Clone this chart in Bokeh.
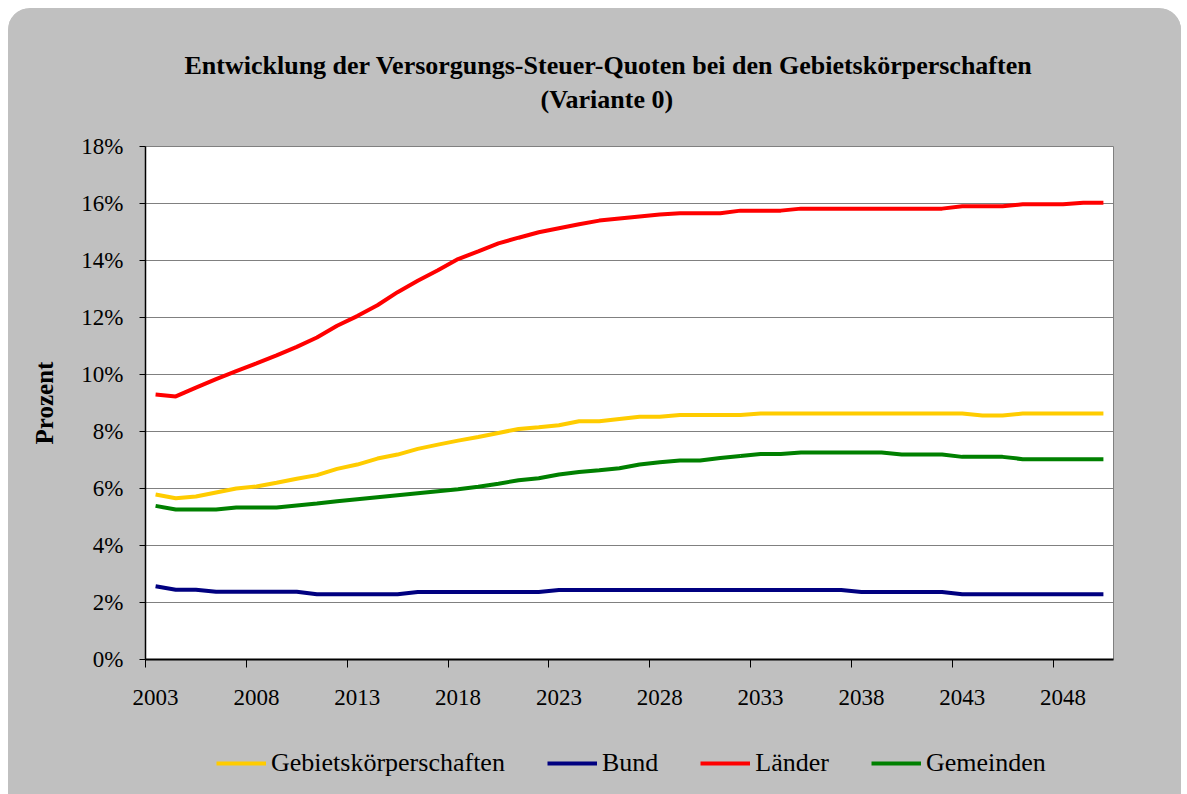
from bokeh.plotting import figure
from bokeh.layouts import column
from bokeh.models import (LinearAxis, FixedTicker, Range1d, Legend, LegendItem, Title,
                          ColumnDataSource, CustomLabelingPolicy)
from bokeh.embed import file_html
from bokeh.resources import INLINE

years = list(range(2003, 2051))

gebietskoerperschaften = [5.79, 5.66, 5.72, 5.86, 6.00, 6.07, 6.20, 6.34, 6.47, 6.69,
                          6.84, 7.05, 7.19, 7.39, 7.54, 7.68, 7.81, 7.95, 8.09, 8.15,
                          8.22, 8.36, 8.36, 8.44, 8.52, 8.52, 8.58, 8.58, 8.58, 8.58,
                          8.63, 8.63, 8.63, 8.63, 8.63, 8.63, 8.63, 8.63, 8.63, 8.63,
                          8.63, 8.56, 8.56, 8.63, 8.63, 8.63, 8.63, 8.63]

bund = [2.57, 2.45, 2.45, 2.38, 2.38, 2.38, 2.38, 2.38, 2.29, 2.29,
        2.29, 2.29, 2.29, 2.37, 2.37, 2.37, 2.37, 2.37, 2.37, 2.37,
        2.44, 2.44, 2.44, 2.44, 2.44, 2.44, 2.44, 2.44, 2.44, 2.44,
        2.44, 2.44, 2.44, 2.44, 2.44, 2.37, 2.37, 2.37, 2.37, 2.37,
        2.29, 2.29, 2.29, 2.29, 2.29, 2.29, 2.29, 2.29]

laender = [9.30, 9.23, 9.54, 9.84, 10.12, 10.39, 10.67, 10.97, 11.30, 11.71,
           12.05, 12.43, 12.89, 13.29, 13.66, 14.05, 14.32, 14.60, 14.80, 14.99,
           15.13, 15.27, 15.40, 15.47, 15.54, 15.61, 15.66, 15.66, 15.66, 15.75,
           15.75, 15.75, 15.82, 15.82, 15.82, 15.82, 15.82, 15.82, 15.82, 15.82,
           15.90, 15.90, 15.90, 15.97, 15.97, 15.97, 16.03, 16.03]

gemeinden = [5.39, 5.26, 5.26, 5.26, 5.33, 5.33, 5.33, 5.40, 5.47, 5.55,
             5.62, 5.69, 5.76, 5.83, 5.90, 5.97, 6.06, 6.17, 6.29, 6.36,
             6.49, 6.58, 6.64, 6.71, 6.84, 6.92, 6.98, 6.98, 7.07, 7.14,
             7.21, 7.21, 7.26, 7.26, 7.26, 7.26, 7.26, 7.19, 7.19, 7.19,
             7.11, 7.11, 7.11, 7.03, 7.03, 7.03, 7.03, 7.03]

series_names = ["Gebietskörperschaften", "Bund", "Länder", "Gemeinden"]
series_colors = ["#FFCC00", "#000080", "#FF0000", "#008000"]

y_ticks = [0, 2, 4, 6, 8, 10, 12, 14, 16, 18]
x_label_years = [2003, 2008, 2013, 2018, 2023, 2028, 2033, 2038, 2043, 2048]

title_line1 = "Entwicklung der Versorgungs-Steuer-Quoten bei den Gebietskörperschaften"
title_line2 = "(Variante 0)"
y_label = "Prozent"

FONT = "Liberation Serif"
BG = "#C0C0C0"
LW = 4

src = ColumnDataSource(dict(year=years, g=gebietskoerperschaften, b=bund,
                            l=laender, m=gemeinden))
keys = ["g", "b", "l", "m"]

# ---------------- main chart ----------------
p = figure(width=1173, height=732, output_backend="svg", toolbar_location=None,
           x_range=Range1d(years[0] - 0.5, years[-1] + 0.5),
           y_range=Range1d(y_ticks[0], y_ticks[-1]),
           min_border_left=137, min_border_right=68, min_border_top=138,
           min_border_bottom=81, title_location=None)

p.border_fill_color = BG
p.background_fill_color = "white"
p.outline_line_color = "#808080"
p.outline_line_width = 1

yax = p.yaxis[0]
yax.ticker = FixedTicker(ticks=y_ticks)
yax.major_label_overrides = {t: f"{t}%" for t in y_ticks}
yax.major_label_text_font = FONT
yax.major_label_text_font_size = "23px"
yax.major_label_text_color = "black"
yax.major_tick_out = 6
yax.major_tick_in = 0
yax.minor_tick_out = 0
yax.minor_tick_in = 0
yax.major_label_standoff = 16
yax.axis_line_color = "black"
yax.axis_line_width = 1.5
yax.axis_label = y_label
yax.axis_label_text_font = FONT
yax.axis_label_text_font_size = "25px"
yax.axis_label_text_font_style = "bold"
yax.axis_label_text_color = "black"
yax.axis_label_standoff = 20

p.ygrid.ticker = FixedTicker(ticks=y_ticks)
p.ygrid.grid_line_color = "#808080"
p.ygrid.grid_line_width = 1
p.xgrid.visible = False

# x axis 1: tick marks on category boundaries, no labels
xax = p.xaxis[0]
xax.ticker = FixedTicker(ticks=[y - 0.5 for y in x_label_years])
xax.major_label_text_font_size = "1px"
xax.major_label_policy = CustomLabelingPolicy(
    code="const all = [...indices]; for (const i of all) indices.unset(i); return indices")
xax.major_label_standoff = 0
xax.major_tick_out = 8
xax.major_tick_in = 0
xax.minor_tick_out = 0
xax.minor_tick_in = 0
xax.axis_line_color = "black"
xax.axis_line_width = 2

# x axis 2: year labels at category centres
xax2 = LinearAxis(ticker=FixedTicker(ticks=x_label_years),
                  major_label_overrides={t: str(t) for t in x_label_years},
                  major_label_text_font=FONT, major_label_text_font_size="23px",
                  major_label_text_color="black",
                  major_tick_out=0, major_tick_in=0, minor_tick_out=0, minor_tick_in=0,
                  axis_line_color=None, major_label_standoff=18)
p.add_layout(xax2, "below")

for key, col in zip(keys, series_colors):
    p.line("year", key, source=src, line_color=col, line_width=LW)

# title lines (spacer first = nearest to the frame)
p.add_layout(Title(text=" ", text_font_size="10px", standoff=20), "above")
p.add_layout(Title(text=title_line2, align="left", offset=395, text_font=FONT,
                   text_font_size="26px", text_font_style="bold", text_color="black",
                   standoff=0), "above")
p.add_layout(Title(text=title_line1, align="left", offset=39, text_font=FONT,
                   text_font_size="26px", text_font_style="bold", text_color="black",
                   standoff=6), "above")

# ---------------- legend strip (frame aligned with the chart frame) ----------------
q = figure(width=1173, height=54, output_backend="svg", toolbar_location=None,
           x_range=p.x_range, y_range=Range1d(100, 101),
           min_border=0, x_axis_location=None, y_axis_location=None,
           title_location=None)
q.border_fill_color = BG
q.background_fill_color = BG
q.outline_line_color = None
q.grid.visible = False

items = []
for key, name, col in zip(keys, series_names, series_colors):
    r = q.line("year", key, source=src, line_color=col, line_width=LW)
    items.append(LegendItem(label=name, renderers=[r]))

legend = Legend(items=items, orientation="horizontal", location=(71, 16),
                background_fill_alpha=0, border_line_color=None,
                label_text_font=FONT, label_text_font_size="26px",
                label_text_color="black",
                glyph_width=50, glyph_height=20, label_standoff=5, spacing=42,
                padding=0, margin=0)
q.add_layout(legend, "center")

layout = column(p, q, spacing=0, margin=(8, 0, 0, 8),
                styles={"border-radius": "22px 22px 0 0", "overflow": "hidden",
                        "background-color": BG})

open("out.html", "w").write(file_html(layout, INLINE))
